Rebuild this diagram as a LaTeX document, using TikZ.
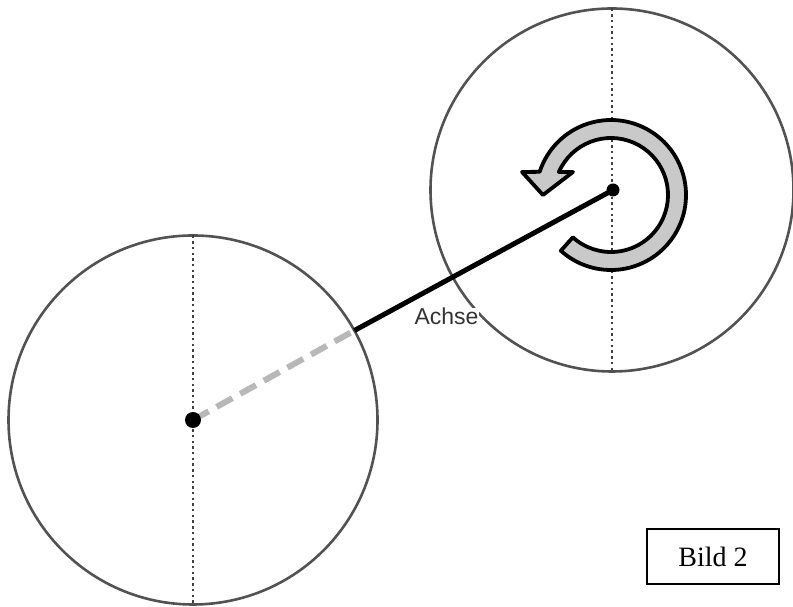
\documentclass[tikz,border=0pt]{standalone}
\usepackage{fontspec}
\setmainfont{Liberation Serif}
\newfontfamily\labelfont{Liberation Sans}
\begin{document}
\begin{tikzpicture}[x=1pt,y=1pt,
  wheel/.style={circle,draw=black!68,line width=2.6pt,inner sep=0pt,outer sep=0pt},
  axisdot/.style={circle,fill=black,inner sep=0pt,outer sep=0pt},
  midline/.style={draw=black!75,line width=2.4pt,dash pattern=on 2.4pt off 3.3pt},
  graydash/.style={draw=black!28,line width=6pt,dash pattern=on 18pt off 9pt},
  shaft/.style={draw=black,line width=5pt},
  rotarrow/.style={draw=black,line width=3.8pt,fill=black!21,line join=round},
  caption/.style={draw=black,line width=1.5pt,minimum width=132pt,minimum height=55pt,inner sep=0pt,font=\fontsize{28}{30}\selectfont}
]
\useasboundingbox (0,0) rectangle (793,607);
% wheels
\node[wheel,minimum size=369pt] (lw) at (193,187) {};
\node[wheel,minimum size=363pt] (rw) at (612,417) {};
% vertical dotted lines
\draw[midline] (lw.north) -- (lw.south);
\draw[midline] (rw.north) -- (rw.south);
% axis
\coordinate (E) at (lw.29);
\coordinate (LC) at (193,187);
\coordinate (RC) at (613,417);
\draw[graydash] (LC) -- (E);
\draw[shaft] (E) -- (RC);
\node[axisdot,minimum size=16pt] (ld) at (LC) {};
\node[axisdot,minimum size=13pt] (rd) at (RC) {};
% label
\node[font=\labelfont\fontsize{23}{24}\selectfont,text=black!80,fill=white,inner sep=0.5pt,anchor=base] (achse) at (446.5,282) {Achse};
% rotation arrow
\coordinate (A) at (611,412);
\draw[rotarrow] ([shift={(A)}]228:75) arc[start angle=228,end angle=522,radius=75]
  -- (522,435) -- (543,412) -- (573,435) -- ([shift={(A)}]516.2:57)
  arc[start angle=516.2,end angle=228,radius=57] -- cycle;
% caption box
\node[caption] (bild) at (713,50.5) {Bild 2};
\end{tikzpicture}
\end{document}
